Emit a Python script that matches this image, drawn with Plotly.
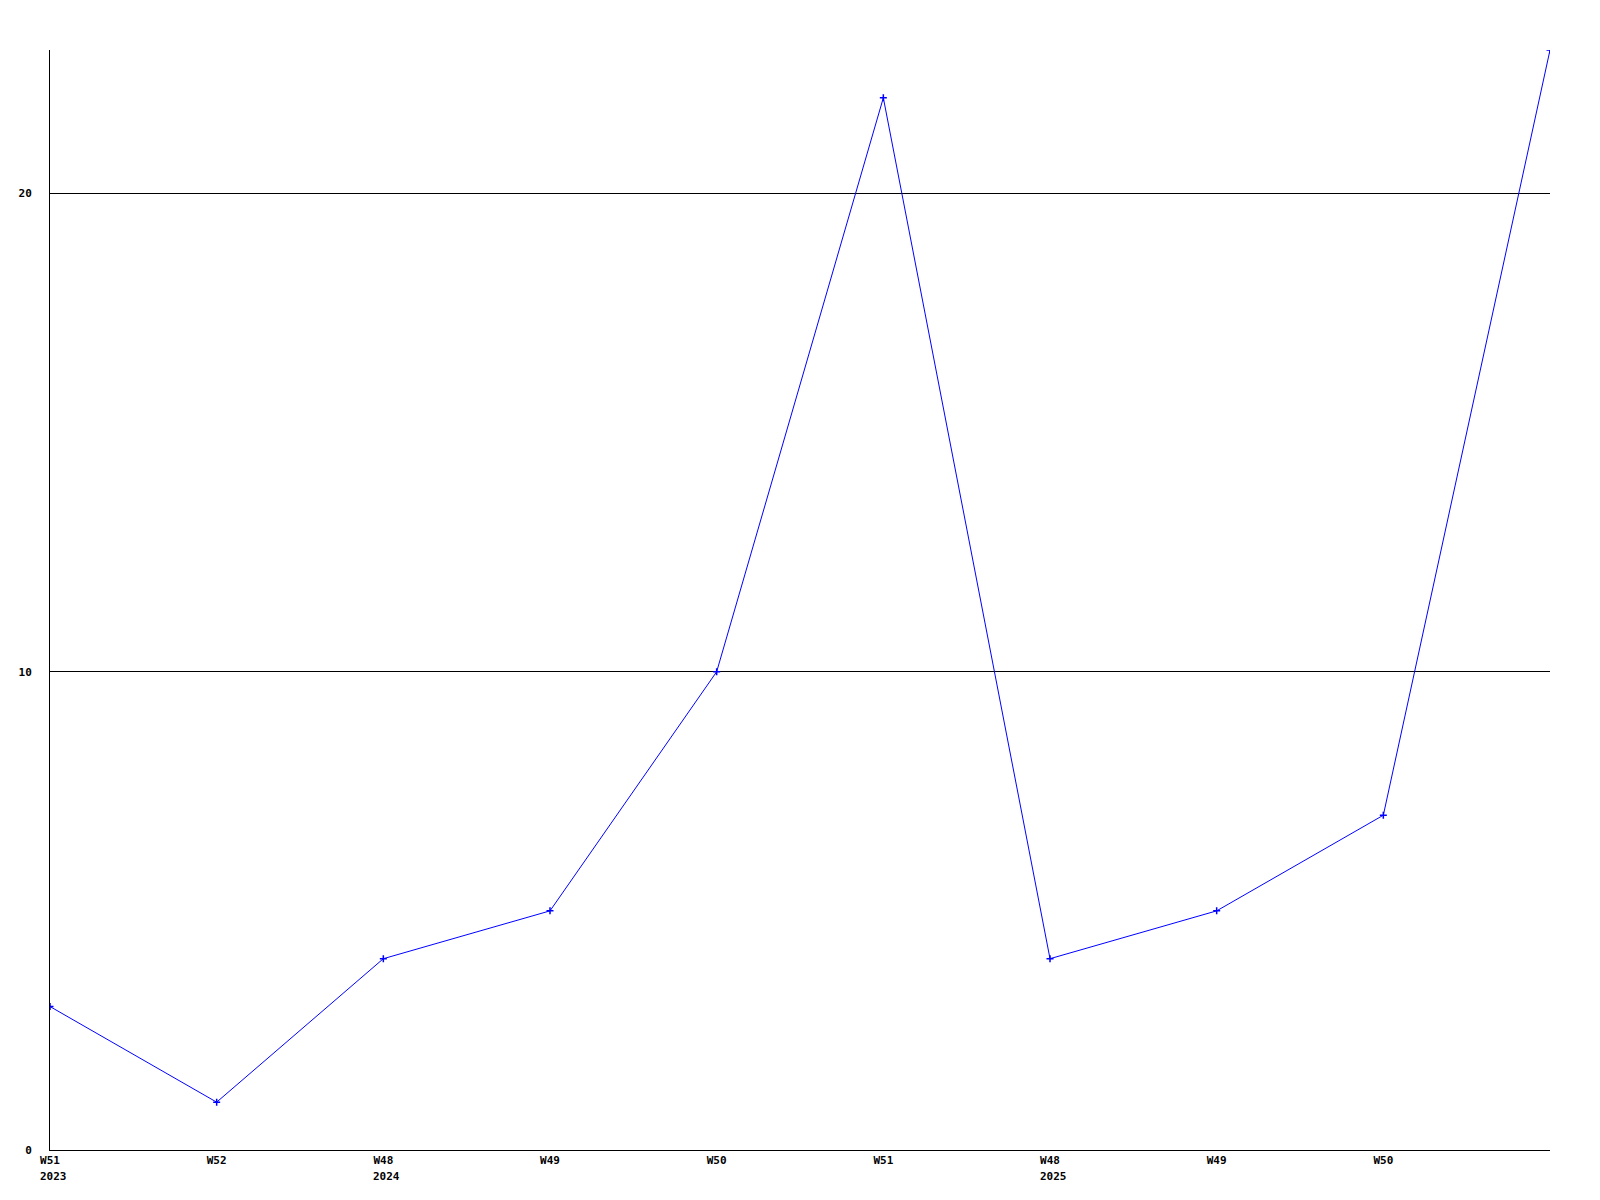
import plotly.graph_objects as go

weeks = ["W51", "W52", "W48", "W49", "W50", "W51", "W48", "W49", "W50", "W51"]
years = ["2023", "", "2024", "", "", "", "2025", "", "", ""]
values = [3, 1, 4, 5, 10, 22, 4, 5, 7, 23]
y_ticks = [0, 10, 20]

x = list(range(len(values)))

fig = go.Figure()
fig.add_trace(go.Scatter(
    x=x, y=values, mode="lines+markers",
    line=dict(color="#0000ff", width=1),
    marker=dict(symbol="cross-thin", size=5, color="#0000ff",
                line=dict(color="#0000ff", width=1.5)),
    cliponaxis=True,
    showlegend=False,
))

tick_font = dict(family="DejaVu Sans Mono", size=11, color="black", weight="bold")

for xi, yr in zip(x, years):
    if yr:
        fig.add_annotation(
            x=xi, xref="x", y=0, yref="paper",
            text=yr, showarrow=False,
            xanchor="left", yanchor="top",
            xshift=-11, yshift=-19,
            font=tick_font, borderpad=0,
        )

fig.update_layout(
    width=1600, height=1200,
    margin=dict(l=42, r=58, t=42, b=58, autoexpand=False),
    paper_bgcolor="white", plot_bgcolor="white",
    font=tick_font,
)
fig.update_xaxes(
    range=[0, len(values) - 1], automargin=False,
    tickmode="array", tickvals=x[:-1], ticktext=weeks[:-1],
    showgrid=False, zeroline=False,
    showline=True, linecolor="black", linewidth=1,
    ticks="", ticklen=0,
    tickfont=tick_font,
)
fig.update_yaxes(
    range=[0, 23], automargin=False,
    tickmode="array", tickvals=y_ticks, ticktext=[str(v) for v in y_ticks],
    showgrid=True, gridcolor="black", gridwidth=1,
    zeroline=False,
    showline=True, linecolor="black", linewidth=1,
    ticks="outside", ticklen=15, tickcolor="rgba(0,0,0,0)",
    tickfont=tick_font,
)

fig.write_html("out.html")
